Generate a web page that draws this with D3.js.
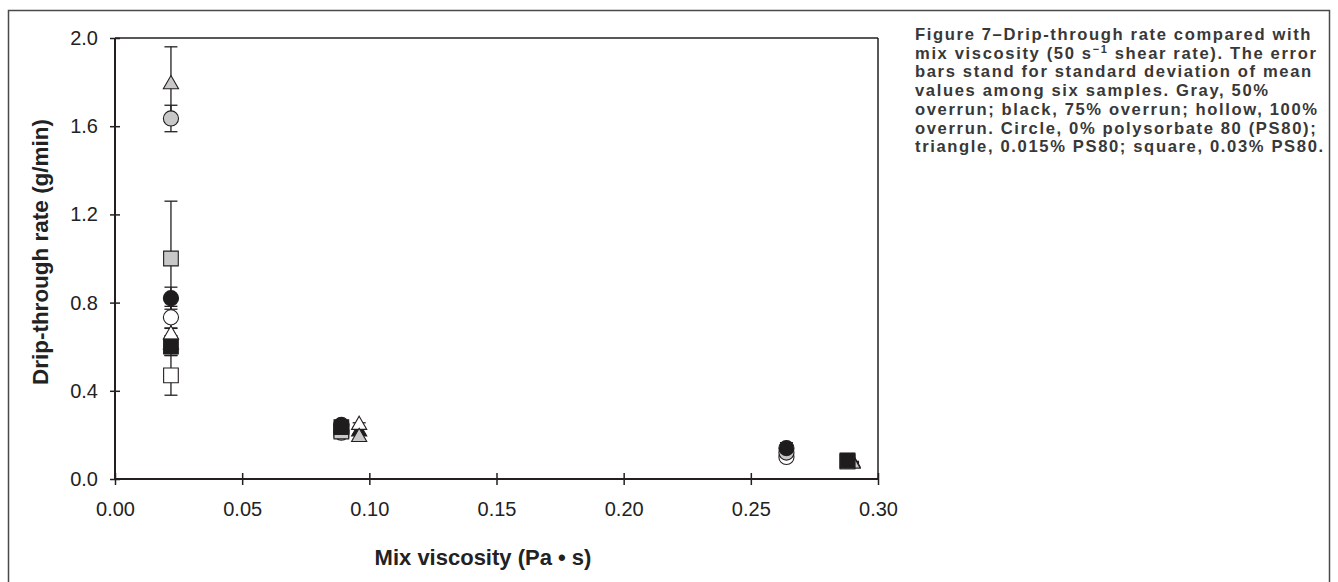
<!DOCTYPE html>
<html>
<head>
<meta charset="utf-8">
<script src="https://cdn.jsdelivr.net/npm/d3@7/dist/d3.min.js"></script>
<style>
  body { margin: 0; background: #fff; }
  svg { display: block; }
</style>
</head>
<body>
<svg id="chart" width="1338" height="582"></svg>
<script>
// x values (mix viscosity, Pa·s) per shape
const viscCircle = [0.022, 0.089, 0.264];
const viscTriangle = [0.022, 0.096, 0.290];
const viscSquare = [0.022, 0.089, 0.288];

// drip-through rate (g/min) and standard deviation
const grayCircle = [1.635, 0.21, 0.12];
const grayCircleSd = [0.06, 0.01, 0.01];
const blackCircle = [0.82, 0.245, 0.14];
const blackCircleSd = [0.05, 0.01, 0.025];
const hollowCircle = [0.733, 0.22, 0.10];
const hollowCircleSd = [0.05, 0.01, 0.01];

const grayTriangle = [1.79, 0.19, 0.07];
const grayTriangleSd = [0.17, 0.01, 0.005];
const blackTriangle = [0.61, 0.215, 0.075];
const blackTriangleSd = [0.04, 0.01, 0.005];
const hollowTriangle = [0.655, 0.245, 0.07];
const hollowTriangleSd = [0.03, 0.01, 0.005];

const graySquare = [1.00, 0.215, 0.08];
const graySquareSd = [0.26, 0.01, 0.005];
const blackSquare = [0.60, 0.235, 0.085];
const blackSquareSd = [0.04, 0.01, 0.005];
const hollowSquare = [0.47, 0.22, 0.08];
const hollowSquareSd = [0.09, 0.01, 0.005];

const xTicks = [0, 0.05, 0.10, 0.15, 0.20, 0.25, 0.30];
const yTicks = [0, 0.4, 0.8, 1.2, 1.6, 2.0];

const xTitle = 'Mix viscosity (Pa \u2022 s)';
const yTitle = 'Drip-through rate (g/min)';
const captionLines = [
  'Figure 7\u2013Drip-through rate compared with',
  'mix viscosity (50 s|\u22121| shear rate). The error',
  'bars stand for standard deviation of mean',
  'values among six samples. Gray, 50%',
  'overrun; black, 75% overrun; hollow, 100%',
  'overrun. Circle, 0% polysorbate 80 (PS80);',
  'triangle, 0.015% PS80; square, 0.03% PS80.'
];

const GRAY = '#c8c8c8', BLACK = '#1e1c1c', HOLLOW = '#fff';

// series table built from the arrays above, in drawing order
const series = [
  {shape: 'triangle', fill: BLACK, x: viscTriangle, y: blackTriangle, sd: blackTriangleSd},
  {shape: 'circle', fill: HOLLOW, x: viscCircle, y: hollowCircle, sd: hollowCircleSd},
  {shape: 'triangle', fill: HOLLOW, x: viscTriangle, y: hollowTriangle, sd: hollowTriangleSd},
  {shape: 'square', fill: HOLLOW, x: viscSquare, y: hollowSquare, sd: hollowSquareSd},
  {shape: 'circle', fill: GRAY, x: viscCircle, y: grayCircle, sd: grayCircleSd},
  {shape: 'triangle', fill: GRAY, x: viscTriangle, y: grayTriangle, sd: grayTriangleSd},
  {shape: 'square', fill: GRAY, x: viscSquare, y: graySquare, sd: graySquareSd},
  {shape: 'circle', fill: BLACK, x: viscCircle, y: blackCircle, sd: blackCircleSd},
  {shape: 'square', fill: BLACK, x: viscSquare, y: blackSquare, sd: blackSquareSd}
];

const points = [];
series.forEach(s => {
  s.x.forEach((v, i) => {
    points.push({shape: s.shape, fill: s.fill, visc: v, rate: s.y[i], sd: s.sd[i]});
  });
});

const symbolType = {circle: d3.symbolCircle, triangle: d3.symbolTriangle, square: d3.symbolSquare};
const symbolSize = {circle: 180, triangle: 100, square: 215};

const svg = d3.select('#chart');
const ink = '#231f20';

// outer frame
svg.append('rect')
  .attr('x', 8.5).attr('y', 10.5)
  .attr('width', 1321).attr('height', 620)
  .attr('fill', 'none')
  .attr('stroke', '#4a4a4a')
  .attr('stroke-width', 1.5);

const x = d3.scaleLinear().domain([0, 0.30]).range([115, 878]);
const y = d3.scaleLinear().domain([0, 2.0]).range([479, 38]);

// plot box top and right
svg.append('line')
  .attr('x1', x(0)).attr('x2', x(0.30))
  .attr('y1', y(2.0)).attr('y2', y(2.0))
  .attr('stroke', ink).attr('stroke-width', 1.5);
svg.append('line')
  .attr('x1', x(0.30)).attr('x2', x(0.30))
  .attr('y1', y(2.0)).attr('y2', y(0))
  .attr('stroke', ink).attr('stroke-width', 1.5);

const yAxis = d3.axisLeft(y)
  .tickValues(yTicks)
  .tickFormat(d3.format('.1f'))
  .tickSize(6)
  .tickPadding(11);

const xAxis = d3.axisBottom(x)
  .tickValues(xTicks)
  .tickFormat(d3.format('.2f'))
  .tickSize(6)
  .tickPadding(17);

svg.append('g')
  .attr('transform', 'translate(' + x(0) + ',0)')
  .call(yAxis)
  .call(g => g.select('.domain').remove())
  .call(g => g.selectAll('.tick line').attr('x1', -5).attr('x2', 5)
      .attr('stroke', ink).attr('stroke-width', 1.5))
  .call(g => g.selectAll('.tick text')
      .attr('font-family', '"Liberation Sans", Arial, sans-serif')
      .attr('font-size', 20).attr('fill', '#222'));

svg.append('g')
  .attr('transform', 'translate(0,' + y(0) + ')')
  .call(xAxis)
  .call(g => g.select('.domain').remove())
  .call(g => g.selectAll('.tick line').attr('y1', -6).attr('y2', 6)
      .attr('stroke', ink).attr('stroke-width', 1.5))
  .call(g => g.selectAll('.tick text')
      .attr('font-family', '"Liberation Sans", Arial, sans-serif')
      .attr('font-size', 20).attr('fill', '#222'));

// axis lines
svg.append('line')
  .attr('x1', x(0)).attr('x2', x(0))
  .attr('y1', y(2.0)).attr('y2', y(0))
  .attr('stroke', ink).attr('stroke-width', 2);
svg.append('line')
  .attr('x1', x(0)).attr('x2', x(0.30))
  .attr('y1', y(0)).attr('y2', y(0))
  .attr('stroke', ink).attr('stroke-width', 2);

// error bars
const bars = svg.append('g').attr('stroke', ink).attr('stroke-width', 1.3);
points.forEach(p => {
  const cx = x(p.visc);
  const top = y(p.rate + p.sd), bot = y(p.rate - p.sd);
  bars.append('line').attr('x1', cx).attr('x2', cx).attr('y1', top).attr('y2', bot);
  bars.append('line').attr('x1', cx - 6.5).attr('x2', cx + 6.5).attr('y1', top).attr('y2', top);
  bars.append('line').attr('x1', cx - 6.5).attr('x2', cx + 6.5).attr('y1', bot).attr('y2', bot);
});

// markers
svg.append('g').selectAll('path')
  .data(points)
  .join('path')
  .attr('transform', d => 'translate(' + x(d.visc) + ',' + y(d.rate) + ')')
  .attr('d', d => d3.symbol(symbolType[d.shape], symbolSize[d.shape])())
  .attr('fill', d => d.fill)
  .attr('stroke', ink)
  .attr('stroke-width', 1.1);

// axis titles
svg.append('text')
  .attr('x', 483).attr('y', 565)
  .attr('text-anchor', 'middle')
  .attr('font-family', '"Liberation Sans", Arial, sans-serif')
  .attr('font-weight', 'bold').attr('font-size', 22).attr('fill', '#222')
  .text(xTitle);

svg.append('text')
  .attr('transform', 'translate(48,252) rotate(-90)')
  .attr('text-anchor', 'middle')
  .attr('font-family', '"Liberation Sans", Arial, sans-serif')
  .attr('font-weight', 'bold').attr('font-size', 22.5).attr('fill', '#222')
  .text(yTitle);

// caption, one text per line; text between | marks is superscript
const captionG = svg.append('g')
  .attr('font-family', '"Liberation Sans", Arial, sans-serif')
  .attr('font-weight', 'bold')
  .attr('font-size', 16.6)
  .attr('fill', '#383838');

const captionTexts = captionLines.map((line, i) => {
  const t = captionG.append('text').attr('x', 915).attr('y', 40 + i * 18.7);
  line.split('|').forEach((part, j) => {
    if (j % 2 === 1) {
      t.append('tspan').attr('dy', -6).attr('font-size', 11).text(part);
    } else {
      const s = t.append('tspan').text(part);
      if (j > 0) s.attr('dy', 6);
    }
  });
  return t;
});

// adjust letter spacing so the first line has the reference width
const w0 = captionTexts[0].node().getComputedTextLength();
const n0 = captionLines[0].length;
captionG.attr('letter-spacing', ((397 - w0) / n0).toFixed(2));
</script>
</body>
</html>
